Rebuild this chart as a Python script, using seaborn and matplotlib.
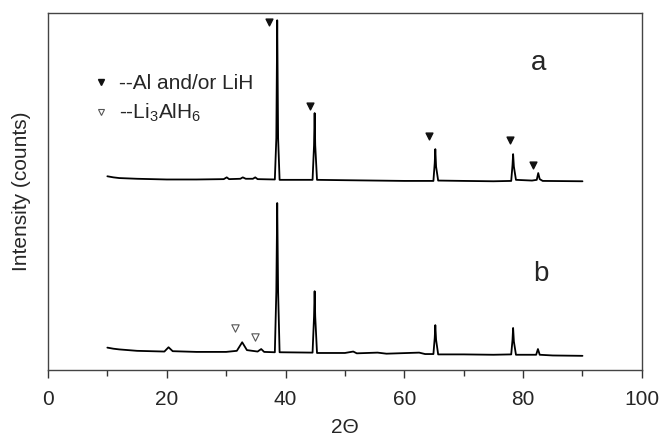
import matplotlib
matplotlib.use("Agg")
import matplotlib.pyplot as plt
from matplotlib.lines import Line2D
import seaborn as sns
import pandas as pd

# XRD pattern a (arbitrary intensity units)
two_theta_a = [10.0, 11.0, 12.0, 15.0, 20.0, 25.0, 29.6, 30.1, 30.5, 32.4, 32.8, 33.3,
               34.5, 34.9, 35.3, 38.2, 38.45, 38.6, 38.75, 39.0, 44.55, 44.8,
               44.9, 45.0, 45.3, 50.0, 55.0, 60.0, 64.9, 65.12, 65.22, 65.35,
               65.7, 70.0, 75.0, 78.0, 78.22, 78.32, 78.45, 78.8, 81.5, 82.3,
               82.55, 82.8, 83.3, 90.0]
intensity_a = [54.3, 54.0, 53.8, 53.6, 53.4, 53.4, 53.5, 54.0, 53.5, 53.6, 54.0, 53.6,
               53.6, 54.0, 53.5, 53.4, 65.0, 98.0, 65.0, 53.3, 53.3, 63.0,
               72.0, 63.0, 53.3, 53.2, 53.1, 53.0, 53.0, 58.0, 61.9, 57.0,
               53.1, 53.0, 52.9, 53.0, 57.5, 60.5, 57.0, 53.3, 53.1, 53.3,
               55.2, 53.5, 53.0, 52.9]

# XRD pattern b
two_theta_b = [10.0, 11.0, 12.0, 15.0, 19.6, 20.3, 21.0, 25.0, 30.0, 31.8, 32.7, 33.5,
               35.3, 35.9, 36.4, 38.2, 38.45, 38.6, 38.75, 39.0, 44.55, 44.8,
               44.9, 45.0, 45.3, 50.0, 51.4, 52.0, 55.5, 57.0, 62.5, 63.5,
               64.9, 65.12, 65.22, 65.35, 65.7, 70.0, 75.0, 78.0, 78.22, 78.32,
               78.45, 78.8, 82.2, 82.5, 82.8, 85.0, 90.0]
intensity_b = [6.3, 6.0, 5.8, 5.4, 5.2, 6.4, 5.3, 5.1, 5.1, 5.4, 7.8, 5.6,
               5.2, 5.9, 5.1, 5.0, 22.0, 46.8, 22.0, 5.0, 4.9, 15.0,
               22.1, 15.0, 4.8, 4.8, 5.2, 4.7, 4.9, 4.6, 4.9, 4.5,
               4.5, 9.0, 12.6, 8.5, 4.4, 4.4, 4.3, 4.4, 8.5, 11.8,
               8.0, 4.3, 4.3, 5.9, 4.3, 4.1, 4.0]

# peak markers
al_lih_x = [37.2, 44.1, 64.2, 77.8, 81.7]
al_lih_y = [97.5, 74.0, 65.5, 64.4, 57.4]
li3alh6_x = [31.5, 34.9]
li3alh6_y = [11.8, 9.2]

sns.set_style("ticks")
plt.rcParams["font.family"] = ["Liberation Sans", "DejaVu Sans"]
plt.rcParams["mathtext.fontset"] = "custom"
plt.rcParams["mathtext.rm"] = "Liberation Sans"
plt.rcParams["mathtext.it"] = "Liberation Sans"

fig = plt.figure(figsize=(6.59, 4.38), dpi=100)
ax = fig.add_axes([0.0728, 0.155, 0.9012, 0.815])

df_a = pd.DataFrame({"x": two_theta_a, "y": intensity_a})
df_b = pd.DataFrame({"x": two_theta_b, "y": intensity_b})
sns.lineplot(data=df_a, x="x", y="y", ax=ax, color="black", linewidth=1.3, sort=False)
sns.lineplot(data=df_b, x="x", y="y", ax=ax, color="black", linewidth=1.3, sort=False)

ax.scatter(al_lih_x, al_lih_y, marker="v", s=24, color="#111111", zorder=3)
ax.scatter(li3alh6_x, li3alh6_y, marker="v", s=28, facecolor="white",
           edgecolor="#555555", linewidth=0.8, zorder=3)

ax.text(82.6, 86.0, "a", fontsize=20, ha="center", va="center")
ax.text(83.0, 27.0, "b", fontsize=20, ha="center", va="center")

handles = [
    Line2D([], [], marker="v", linestyle="none", color="#111111", markersize=4.8),
    Line2D([], [], marker="v", linestyle="none", markerfacecolor="white",
           markeredgecolor="#555555", markeredgewidth=0.8, markersize=5),
]
ax.legend(handles, ["--Al and/or LiH", r"--Li$_3$AlH$_6$"], loc="upper left",
          bbox_to_anchor=(0.072, 0.83), frameon=False, fontsize=15,
          handlelength=1.0, handletextpad=0.38, borderpad=0, borderaxespad=0,
          labelspacing=0.45)

ax.set_xlim(0, 100)
ax.set_ylim(0, 100)
ax.set_xticks([0, 20, 40, 60, 80, 100])
ax.set_xticks([10, 30, 50, 70, 90], minor=True)
ax.set_yticks([])
ax.tick_params(axis="x", which="major", length=6, width=1, labelsize=15,
               color="#333333", pad=8)
ax.tick_params(axis="x", which="minor", length=4, width=1, color="#333333")
for s in ax.spines.values():
    s.set_visible(True)
    s.set_color("#444444")
    s.set_linewidth(1.0)

ax.set_xlabel("2Θ", fontsize=15, labelpad=7)
ax.set_ylabel("Intensity (counts)", fontsize=15, labelpad=12)

fig.savefig("out.png", dpi=100)
